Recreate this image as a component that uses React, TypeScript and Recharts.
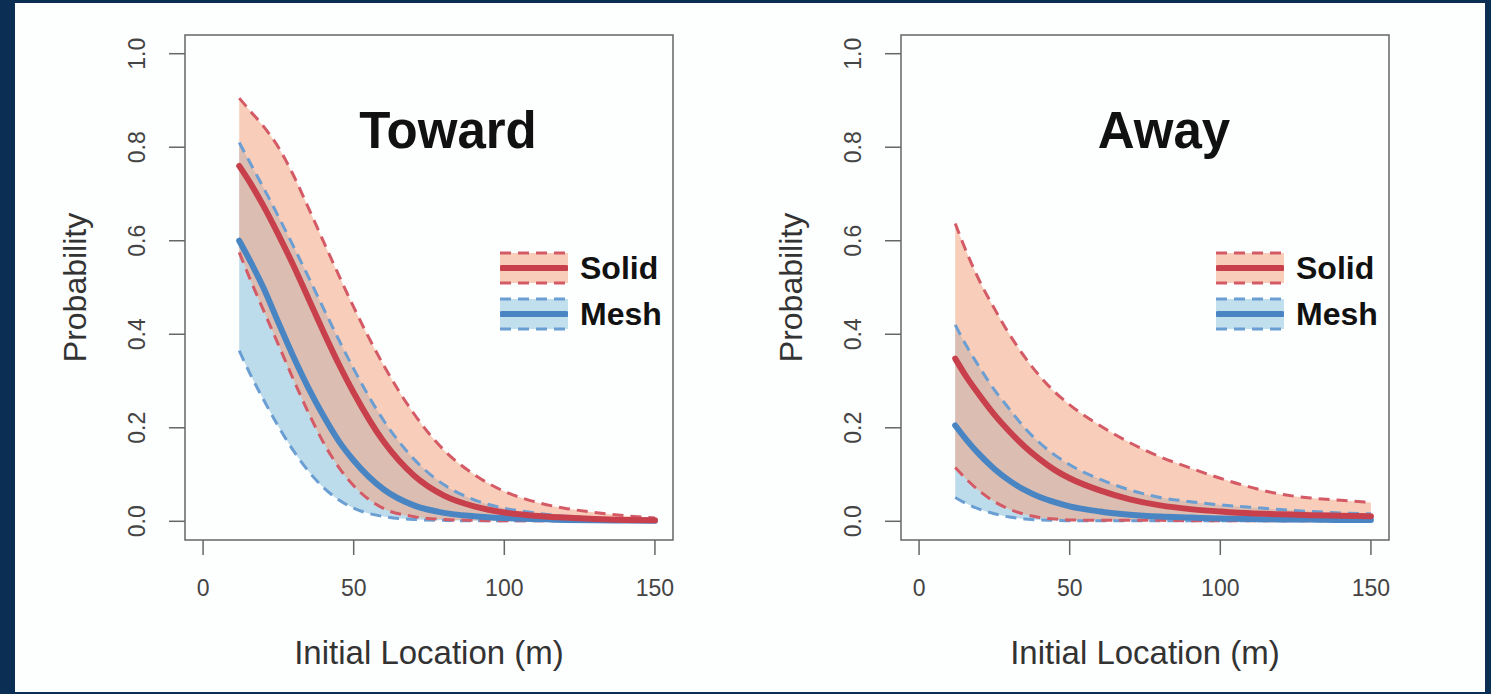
import {
  ComposedChart,
  Area,
  Line,
  XAxis,
  YAxis,
  ReferenceArea,
  Legend,
} from 'recharts';

// distance from the structure (m)
const distance = [12, 16, 20, 25, 30, 35, 40, 45, 50, 60, 70, 80, 90, 100, 110, 120, 130, 140, 150];

const towardSolidMean = [0.76, 0.72, 0.675, 0.613, 0.547, 0.476, 0.405, 0.337, 0.275, 0.17, 0.098, 0.055, 0.032, 0.019, 0.012, 0.008, 0.005, 0.003, 0.002];
const towardSolidHi = [0.905, 0.875, 0.845, 0.8, 0.74, 0.67, 0.598, 0.527, 0.458, 0.333, 0.23, 0.152, 0.1, 0.064, 0.042, 0.028, 0.019, 0.012, 0.007];
const towardSolidLo = [0.575, 0.512, 0.452, 0.378, 0.303, 0.232, 0.168, 0.116, 0.076, 0.027, 0.01, 0.004, 0.002, 0.001, 0.001, 0.001, 0.001, 0.001, 0.001];
const towardMeshMean = [0.6, 0.552, 0.5, 0.425, 0.352, 0.285, 0.225, 0.172, 0.13, 0.068, 0.034, 0.018, 0.011, 0.007, 0.005, 0.003, 0.002, 0.0015, 0.001];
const towardMeshHi = [0.81, 0.762, 0.714, 0.652, 0.588, 0.522, 0.455, 0.389, 0.326, 0.215, 0.133, 0.078, 0.046, 0.028, 0.018, 0.011, 0.007, 0.004, 0.003];
const towardMeshLo = [0.365, 0.31, 0.261, 0.203, 0.151, 0.107, 0.072, 0.046, 0.028, 0.01, 0.004, 0.002, 0.001, 0.001, 0.001, 0.001, 0.001, 0.001, 0.001];

const awaySolidMean = [0.348, 0.306, 0.27, 0.228, 0.192, 0.16, 0.133, 0.11, 0.092, 0.066, 0.047, 0.034, 0.026, 0.021, 0.017, 0.015, 0.013, 0.012, 0.011];
const awaySolidHi = [0.637, 0.572, 0.515, 0.455, 0.4, 0.352, 0.311, 0.277, 0.249, 0.205, 0.168, 0.138, 0.114, 0.092, 0.073, 0.058, 0.05, 0.045, 0.04];
const awaySolidLo = [0.115, 0.088, 0.065, 0.042, 0.026, 0.015, 0.008, 0.005, 0.003, 0.002, 0.002, 0.002, 0.001, 0.001, 0.001, 0.001, 0.001, 0.001, 0.001];
const awayMeshMean = [0.205, 0.172, 0.143, 0.112, 0.087, 0.067, 0.052, 0.041, 0.032, 0.021, 0.014, 0.01, 0.008, 0.006, 0.005, 0.004, 0.004, 0.003, 0.003];
const awayMeshHi = [0.42, 0.372, 0.33, 0.281, 0.24, 0.2, 0.168, 0.142, 0.121, 0.09, 0.067, 0.051, 0.042, 0.035, 0.03, 0.025, 0.021, 0.018, 0.016];
const awayMeshLo = [0.051, 0.037, 0.026, 0.016, 0.009, 0.005, 0.003, 0.002, 0.001, 0.001, 0.001, 0.001, 0.001, 0.001, 0.001, 0.001, 0.001, 0.001, 0.001];

const xTicks = [0, 50, 100, 150];
const yTicks = [0, 0.2, 0.4, 0.6, 0.8, 1.0];

const FONT = '"Liberation Sans", Arial, Helvetica, sans-serif';
const RED = '#c8404c';
const RED_DASH = '#d45a66';
const BLUE = '#4a85c3';
const BLUE_DASH = '#6b9ed3';
const SOLID_FILL = '#f4a582';
const MESH_FILL = '#92c5de';
const AXIS = '#666';

function buildRows(
  sMean: number[], sLo: number[], sHi: number[],
  mMean: number[], mLo: number[], mHi: number[],
) {
  return distance.map((x, i) => ({
    x,
    solidBand: [sLo[i], sHi[i]],
    meshBand: [mLo[i], mHi[i]],
    solidMean: sMean[i],
    solidLo: sLo[i],
    solidHi: sHi[i],
    meshMean: mMean[i],
    meshLo: mLo[i],
    meshHi: mHi[i],
  }));
}

const towardRows = buildRows(towardSolidMean, towardSolidLo, towardSolidHi, towardMeshMean, towardMeshLo, towardMeshHi);
const awayRows = buildRows(awaySolidMean, awaySolidLo, awaySolidHi, awayMeshMean, awayMeshLo, awayMeshHi);

const legendItems = [
  { name: 'Solid', line: RED, dash: RED_DASH, fill: SOLID_FILL },
  { name: 'Mesh', line: BLUE, dash: BLUE_DASH, fill: MESH_FILL },
];

function LegendBox() {
  return (
    <div>
      {legendItems.map((item) => (
        <div key={item.name} style={{ display: 'flex', alignItems: 'center', height: 46 }}>
          <svg width={68} height={34}>
            <rect x={0} y={2} width={68} height={30} fill={item.fill} fillOpacity={0.55} />
            <line x1={0} x2={68} y1={2} y2={2} stroke={item.dash} strokeWidth={3} strokeDasharray="11 7" />
            <line x1={0} x2={68} y1={32} y2={32} stroke={item.dash} strokeWidth={3} strokeDasharray="11 7" />
            <line x1={2} x2={66} y1={17} y2={17} stroke={item.line} strokeWidth={6} strokeLinecap="round" />
          </svg>
          <span style={{ marginLeft: 12, fontFamily: FONT, fontWeight: 700, fontSize: 32, color: '#111' }}>
            {item.name}
          </span>
        </div>
      ))}
    </div>
  );
}

function YTick(props: any) {
  const { x, y, payload } = props;
  return (
    <text
      x={x}
      y={y}
      transform={`rotate(-90, ${x}, ${y})`}
      textAnchor="middle"
      dominantBaseline="central"
      fontFamily={FONT}
      fontSize={23}
      fill="#444"
    >
      {payload.value.toFixed(1)}
    </text>
  );
}

type PanelProps = { title: string; rows: any[]; left: number };

function Panel({ title, rows, left }: PanelProps) {
  return (
    <div style={{ position: 'absolute', left, top: 0, width: 700, height: 694 }}>
      <ComposedChart
        width={700}
        height={694}
        data={rows}
        margin={{ top: 35, right: 27, bottom: 94, left: 85 }}
      >
        <XAxis
          dataKey="x"
          type="number"
          domain={[-6, 156]}
          ticks={xTicks}
          allowDataOverflow
          axisLine={false}
          tickLine={{ stroke: AXIS, strokeWidth: 1.5 }}
          tickSize={15}
          tickMargin={25}
          height={60}
          tick={{ fontFamily: FONT, fontSize: 23, fill: '#444' }}
          label={{
            content: ({ viewBox }: any) => (
              <text
                x={viewBox.x + viewBox.width / 2}
                y={viewBox.y + 112}
                textAnchor="middle"
                dominantBaseline="central"
                fontFamily={FONT}
                fontSize={33}
                fill="#333"
              >
                Initial Location (m)
              </text>
            ),
          }}
        />
        <YAxis
          type="number"
          domain={[-0.04, 1.04]}
          ticks={yTicks}
          allowDataOverflow
          axisLine={false}
          tickLine={{ stroke: AXIS, strokeWidth: 1.5 }}
          tickSize={16}
          tickMargin={32}
          width={100}
          tick={<YTick />}
          label={{
            content: ({ viewBox }: any) => {
              const cx = viewBox.x - 10;
              const cy = viewBox.y + viewBox.height / 2;
              return (
                <text
                  x={cx}
                  y={cy}
                  transform={`rotate(-90, ${cx}, ${cy})`}
                  textAnchor="middle"
                  dominantBaseline="central"
                  fontFamily={FONT}
                  fontSize={32}
                  fill="#333"
                >
                  Probability
                </text>
              );
            },
          }}
        />
        <Area
          dataKey="meshBand"
          type="monotone"
          stroke="none"
          fill={MESH_FILL}
          fillOpacity={0.6}
          isAnimationActive={false}
          activeDot={false}
        />
        <Area
          dataKey="solidBand"
          type="monotone"
          stroke="none"
          fill={SOLID_FILL}
          fillOpacity={0.55}
          isAnimationActive={false}
          activeDot={false}
        />
        <Line dataKey="meshLo" type="monotone" stroke={BLUE_DASH} strokeWidth={3} strokeDasharray="11 7" dot={false} activeDot={false} isAnimationActive={false} />
        <Line dataKey="solidLo" type="monotone" stroke={RED_DASH} strokeWidth={3} strokeDasharray="11 7" dot={false} activeDot={false} isAnimationActive={false} />
        <Line dataKey="meshHi" type="monotone" stroke={BLUE_DASH} strokeWidth={3} strokeDasharray="11 7" dot={false} activeDot={false} isAnimationActive={false} />
        <Line dataKey="solidHi" type="monotone" stroke={RED_DASH} strokeWidth={3} strokeDasharray="11 7" dot={false} activeDot={false} isAnimationActive={false} />
        <Line dataKey="meshMean" type="monotone" stroke={BLUE} strokeWidth={6} strokeLinecap="round" dot={false} activeDot={false} isAnimationActive={false} />
        <Line dataKey="solidMean" type="monotone" stroke={RED} strokeWidth={6} strokeLinecap="round" dot={false} activeDot={false} isAnimationActive={false} />
        <ReferenceArea
          x1={-6}
          x2={156}
          y1={-0.04}
          y2={1.04}
          fill="none"
          stroke={AXIS}
          strokeWidth={1.5}
        />
        <Legend
          layout="vertical"
          align="center"
          verticalAlign="middle"
          content={<LegendBox />}
          wrapperStyle={{ position: 'absolute', left: 500, top: 245, width: 180, height: 92 }}
        />
      </ComposedChart>
      <div
        style={{
          position: 'absolute',
          left: 0,
          width: 896,
          top: 101,
          textAlign: 'center',
          fontFamily: FONT,
          fontWeight: 700,
          fontSize: 51,
          lineHeight: '60px',
          color: '#111',
        }}
      >
        {title}
      </div>
    </div>
  );
}

export default function App() {
  return (
    <div style={{ position: 'absolute', left: 0, top: 0, width: 1491, height: 694, background: '#0b2e55' }}>
      <div style={{ position: 'absolute', left: 15, top: 3, width: 1470, height: 689, background: '#fdfefe' }} />
      <Panel title="Toward" rows={towardRows} left={0} />
      <Panel title="Away" rows={awayRows} left={716} />
    </div>
  );
}
